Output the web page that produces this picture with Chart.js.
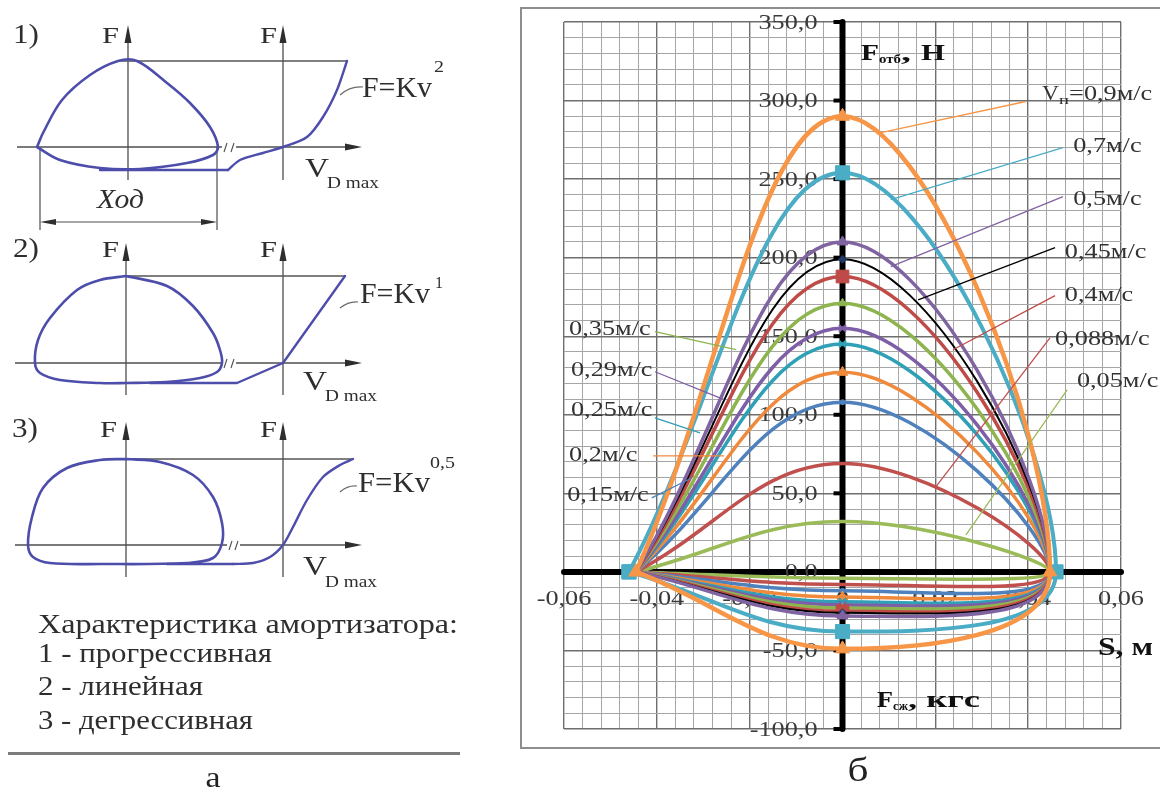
<!DOCTYPE html>
<html lang="ru">
<head>
<meta charset="utf-8">
<title>Характеристики амортизатора</title>
<script src="https://cdn.jsdelivr.net/npm/chart.js@4.4.1/dist/chart.umd.min.js"></script>
<style>
  html, body { margin: 0; padding: 0; background: #fff; }
  body { width: 1160px; height: 789px; position: relative; overflow: hidden; }
  canvas { position: absolute; }
  #frame { position: absolute; left: 520px; top: 7px; width: 700px; height: 742px;
           border: 2px solid #8e8e8e; box-sizing: border-box; }
</style>
</head>
<body>
<div id="frame"></div>
<canvas id="d1" width="470" height="240" style="left:0;top:0"></canvas>
<canvas id="d2" width="470" height="170" style="left:0;top:235px"></canvas>
<canvas id="d3" width="470" height="384" style="left:0;top:405px"></canvas>
<canvas id="main" width="640" height="789" style="left:520px;top:0"></canvas>
<script>
const SERIF = '"Liberation Serif", "Times New Roman", serif';
Chart.defaults.font.family = SERIF;

// ---------- б: working loops F(S) for a set of piston speeds ----------
const speedLabels = ['0,05', '0,088', '0,15', '0,2', '0,25', '0,29', '0,35', '0,4', '0,45', '0,5', '0,7', '0,9'];
// rebound force at mid-stroke (S = 0), Н
const reboundForce = [32, 69, 108, 127, 145, 155, 171, 188, 199, 210, 254, 290];
// compression force at mid-stroke (S = 0)
const compressionForce = [-4, -8, -12, -16, -19, -21, -23, -25, -26, -28, -38, -49];
// stroke ends, м
const strokeStart = [-0.0445, -0.0445, -0.0445, -0.0445, -0.0445, -0.0445, -0.0445, -0.0445, -0.0445, -0.0445, -0.046, -0.0445];
const strokeEnd = [0.0447, 0.0447, 0.0447, 0.0447, 0.0447, 0.0447, 0.0447, 0.0447, 0.0447, 0.0447, 0.046, 0.0447];

const xTickValues = [-0.06, -0.04, -0.02, 0, 0.02, 0.04, 0.06];
const xTickLabels = ['-0,06', '-0,04', '-0,02', '0', '0,02', '0,04', '0,06'];
const yTickValues = [350, 300, 250, 200, 150, 100, 50, 0, -50, -100];
const yTickLabels = ['350,0', '300,0', '250,0', '200,0', '150,0', '100,0', '50,0', '0,0', '-50,0', '-100,0'];

const X_MIN = -0.06, X_MAX = 0.06, X_GRID = 0.004;
const Y_MIN = -100, Y_MAX = 350, Y_GRID = 10;
const SX = 1.25;

// line and marker look of each loop, same order as speedLabels
const seriesStyle = [
  { color: '#9BBB59', width: 3.5 },
  { color: '#C0504D', width: 3.5 },
  { color: '#4F81BD', width: 3.5, marker: 'circle', r: 2.5 },
  { color: '#EF8A3C', width: 3.5, marker: 'triangle', r: 6 },
  { color: '#2FA0B6', width: 3.5, marker: 'crossRot', r: 5 },
  { color: '#7E5EA6', width: 3.5, marker: 'crossRot', r: 5 },
  { color: '#8DB44E', width: 3.5, marker: 'triangle', r: 5 },
  { color: '#BE4B48', width: 3.5, marker: 'rect', r: 9 },
  { color: '#000000', width: 2, marker: 'rectRot', r: 4, markerColor: '#1F3A68' },
  { color: '#8064A2', width: 3.5, marker: 'triangle', r: 6 },
  { color: '#4BACC6', width: 4, marker: 'rect', r: 10, ends: true },
  { color: '#F79646', width: 4.5, marker: 'triangle', r: 8, ends: true }
];

// callout text anchor and leader line for each loop (axis units)
const seriesNotes = [
  { at: [0.0505, 121],   from: [0.0484, 115.9], to: [0.0266, 23.6] },
  { at: [0.0458, 147.8], from: [0.0447, 149],   to: [0.0201, 54.1] },
  { at: [-0.0593, 48.4], from: [-0.0411, 47.1], to: [-0.0324, 59.9] },
  { at: [-0.0589, 74],   from: [-0.0408, 73.9], to: [-0.0255, 73.9] },
  { at: [-0.0585, 102.5],from: [-0.0404, 98.1], to: [-0.0307, 88.5] },
  { at: [-0.0585, 128],  from: [-0.0404, 127.4],to: [-0.0255, 109.6] },
  { at: [-0.0589, 154],  from: [-0.0404, 152.9],to: [-0.0229, 141.4] },
  { at: [0.0479, 175.8], from: [0.0458, 175.8], to: [0.0238, 141.4] },
  { at: [0.0479, 203],   from: [0.0458, 206.4], to: [0.0163, 173.2] },
  { at: [0.0497, 237],   from: [0.0475, 238.9], to: [0.0104, 194.3] },
  { at: [0.0497, 270.7], from: [0.0475, 270],   to: [0.0104, 237] },
  { at: [0.0430, 305.1], from: [0.0395, 299.4], to: [0.0083, 279.6] }
];

// ---------- а: schematic loops and velocity curves (local units, origin at the loop's F axis) ----------
const loopProgressive = [[-91,0],[-85,14],[-66,47],[-38,72],[-10,86],[9,86],[39,64],[62,44],[82,20],[90,0],[85,-8],[59,-16],[12,-22],[-28,-21],[-68,-13],[-91,0]];
const topProgressive = [[-10,86],[219,86]];
const baseProgressive = [[-28,-23],[100,-23]];
const curveProgressive = [[100,-23],[112,-13],[135,-6],[155,0],[179,10],[195,30],[209,57],[219,86]];

const loopLinear = [[0,87],[41,77],[67,57],[87,30],[94,13],[96,0],[91,-9],[74,-15],[40,-19],[0,-20],[-26,-20],[-66,-17],[-86,-10],[-91,0],[-88,23],[-76,45],[-49,73],[-26,83],[0,87]];
const topLinear = [[0,87],[219,87]];
const curveLinear = [[24,-20],[111,-20],[157,0],[219,87]];

const loopDegressive = [[0,86],[34,83],[67,70],[87,48],[96,22],[96,2],[87,-13],[61,-18],[-26,-19],[-76,-18],[-93,-12],[-98,0],[-94,28],[-83,57],[-59,77],[-26,85],[0,86]];
const topDegressive = [[0,86],[227,86]];
const baseDegressive = [[41,-19],[107,-19]];
const curveDegressive = [[107,-19],[127,-18],[144,-12],[157,0],[167,18],[181,45],[197,68],[214,80],[227,86]];

// ---------- text helpers ----------
function drawText(ctx, str, x, y, o) {
  ctx.save();
  ctx.font = o.font;
  ctx.fillStyle = o.color || '#222';
  ctx.textBaseline = o.baseline || 'alphabetic';
  ctx.textAlign = 'left';
  const natural = ctx.measureText(str).width;
  const sx = o.width ? o.width / natural : (o.sx || 1);
  let left = x;
  if (o.align === 'center') left = x - natural * sx / 2;
  else if (o.align === 'right') left = x - natural * sx;
  ctx.translate(left, y);
  ctx.scale(sx, 1);
  ctx.fillText(str, 0, 0);
  ctx.restore();
  return natural * sx;
}
function richText(ctx, parts, x, y, color) {
  let cx = x;
  parts.forEach(p => {
    cx += drawText(ctx, p.t, cx, y + (p.dy || 0), { font: p.font, width: p.w, sx: p.sx, color });
  });
}
function seg(ctx, x1, y1, x2, y2) {
  ctx.beginPath(); ctx.moveTo(x1, y1); ctx.lineTo(x2, y2); ctx.stroke();
}
function arrowHead(ctx, tx, ty, dx, dy, len, half) {
  const bx = tx - dx * len, by = ty - dy * len, nx = -dy, ny = dx;
  ctx.beginPath();
  ctx.moveTo(tx, ty);
  ctx.lineTo(bx + nx * half, by + ny * half);
  ctx.lineTo(bx - nx * half, by - ny * half);
  ctx.closePath();
  ctx.fill();
}
function gridTicks(min, max, step) {
  const n = Math.round((max - min) / step), t = [];
  for (let i = 0; i <= n; i++) t.push({ value: +(min + i * step).toFixed(6) });
  return t;
}

// ---------- б ----------
const loopDatasets = speedLabels.map((s, i) => {
  const st = seriesStyle[i];
  return {
    label: s + 'м/с',
    data: [
      { x: strokeStart[i], y: 0 },
      { x: 0, y: reboundForce[i] },
      { x: strokeEnd[i], y: 0 },
      { x: 0, y: compressionForce[i] },
      { x: strokeStart[i], y: 0 }
    ],
    showLine: true,
    borderColor: st.color,
    borderWidth: st.width,
    tension: 0.4,
    borderCapStyle: 'round',
    borderJoinStyle: 'round',
    pointStyle: st.marker || 'circle',
    pointRadius: c => (!st.marker || (c.dataIndex % 2 === 0 && !st.ends)) ? 0 : st.r,
    pointBackgroundColor: st.markerColor || st.color,
    pointBorderColor: st.markerColor || st.color,
    pointBorderWidth: st.marker === 'crossRot' ? 2 : 1,
    order: speedLabels.length - 1 - i
  };
});

const TICK_FONT = '21px ' + SERIF;
const crossAxes = {
  id: 'crossAxes',
  beforeDatasetsDraw(chart) {
    const { ctx, scales: { x, y } } = chart;
    const x0 = x.getPixelForValue(0), y0 = y.getPixelForValue(0);
    ctx.save();
    ctx.strokeStyle = '#000';
    ctx.lineCap = 'round';
    ctx.lineWidth = 6;
    seg(ctx, x0, y.getPixelForValue(Y_MAX), x0, y.getPixelForValue(Y_MIN));
    seg(ctx, x.getPixelForValue(X_MIN), y0, x.getPixelForValue(X_MAX), y0);
    ctx.lineCap = 'butt';
    ctx.lineWidth = 4;
    yTickValues.forEach(v => {
      if (v === 0) return;
      const p = y.getPixelForValue(v);
      seg(ctx, x0 - 9, p, x0, p);
    });
    yTickValues.forEach((v, i) => drawText(ctx, yTickLabels[i], x0 - 25, y.getPixelForValue(v) + 1,
      { font: TICK_FONT, sx: SX, align: 'right', baseline: 'middle', color: '#3a3a3a' }));
    xTickValues.forEach((v, i) => drawText(ctx, xTickLabels[i], x.getPixelForValue(v), y0 + 28,
      { font: TICK_FONT, sx: SX, align: 'center', baseline: 'middle', color: '#3a3a3a' }));

    const B = 'bold 24px ' + SERIF, b = 'bold 13px ' + SERIF;
    richText(ctx, [{ t: 'F', font: B, w: 18 }, { t: 'отб', font: b, w: 22, dy: 3 }, { t: ', ', font: B, w: 20 }, { t: 'Н', font: B, w: 24 }],
      x.getPixelForValue(0.004), y.getPixelForValue(326), '#111');
    richText(ctx, [{ t: 'S, м', font: 'bold 25px ' + SERIF, w: 55 }],
      x.getPixelForValue(0.05504), y.getPixelForValue(-52.9), '#111');
    richText(ctx, [{ t: 'F', font: B, w: 16 }, { t: 'сж', font: b, w: 15, dy: 3 }, { t: ', кгс', font: B, w: 72 }],
      x.getPixelForValue(0.00743), y.getPixelForValue(-86), '#111');
    ctx.restore();
  },
  afterDatasetsDraw(chart) {
    const { ctx, scales: { x, y } } = chart;
    ctx.save();
    ctx.lineWidth = 1.3;
    seriesNotes.forEach((n, i) => {
      ctx.strokeStyle = seriesStyle[i].color;
      seg(ctx, x.getPixelForValue(n.from[0]), y.getPixelForValue(n.from[1]),
               x.getPixelForValue(n.to[0]), y.getPixelForValue(n.to[1]));
      const lx = x.getPixelForValue(n.at[0]), ly = y.getPixelForValue(n.at[1]);
      if (i === speedLabels.length - 1) {
        const base = ly + 7;
        richText(ctx, [{ t: 'V', font: TICK_FONT, w: 17 }, { t: 'п', font: '13px ' + SERIF, w: 10, dy: 4 },
                       { t: '=' + speedLabels[i] + 'м/с', font: TICK_FONT, sx: SX }], lx, base, '#333');
      } else {
        drawText(ctx, speedLabels[i] + 'м/с', lx, ly, { font: TICK_FONT, sx: SX, baseline: 'middle', color: '#333' });
      }
    });
    drawText(ctx, 'б', 338, 781, { font: '34px ' + SERIF, width: 21, align: 'center', color: '#222' });
    ctx.restore();
  }
};

const MINOR = '#a6a6a6', MAJOR = '#6e6e6e';
new Chart(document.getElementById('main'), {
  type: 'scatter',
  data: { datasets: loopDatasets },
  options: {
    responsive: false,
    animation: false,
    devicePixelRatio: 1,
    layout: { padding: { left: 44, right: 39, top: 22, bottom: 60 } },
    plugins: { legend: { display: false }, tooltip: { enabled: false } },
    scales: {
      x: {
        type: 'linear', min: X_MIN, max: X_MAX,
        afterBuildTicks: a => { a.ticks = gridTicks(X_MIN, X_MAX, X_GRID); },
        ticks: { display: false, autoSkip: false },
        border: { display: false },
        grid: { drawTicks: false, color: c => c.index % 5 === 0 ? MAJOR : MINOR, lineWidth: c => c.index % 5 === 0 ? 1.4 : 1 }
      },
      y: {
        type: 'linear', min: Y_MIN, max: Y_MAX,
        afterBuildTicks: a => { a.ticks = gridTicks(Y_MIN, Y_MAX, Y_GRID); },
        ticks: { display: false, autoSkip: false },
        border: { display: false },
        grid: { drawTicks: false, color: c => c.index % 5 === 0 ? MAJOR : MINOR, lineWidth: c => c.index % 5 === 0 ? 1.4 : 1 }
      }
    }
  },
  plugins: [crossAxes]
});

// ---------- а ----------
const INK = '#2e2e2e';
function labelSet(num, numAt, fAt, f2At, formulaAt, formulaW, exp, expAt, expW, vAt, dAt) {
  return [
    { t: num, at: numAt, font: '28px ' + SERIF, w: 26 },
    { t: 'F', at: fAt, font: '23px ' + SERIF, w: 17 },
    { t: 'F', at: f2At, font: '23px ' + SERIF, w: 17 },
    { t: 'F=Kv', at: formulaAt, font: '30px ' + SERIF, w: formulaW },
    { t: exp, at: expAt, font: '17px ' + SERIF, w: expW },
    { t: 'V', at: vAt, font: '28px ' + SERIF, w: 24 },
    { t: 'D max', at: dAt, font: '17px ' + SERIF, w: 52 }
  ];
}

const diagramSpecs = [
  {
    id: 'd1', xMin: -128, xMax: 342, yMin: -93, yMax: 147,
    loop: loopProgressive, loopTension: 0.35, top: topProgressive, base: baseProgressive,
    curve: curveProgressive, curveTension: 0.3,
    axis2: 155, vLow: -33, vTop: 122, hLeft: -111, hRight: 234, gap: [94, 108],
    dimension: { left: -88, right: 89, bottom: -83, arrowY: -75 },
    labels: labelSet('1)', [-115, 104], [-26, 104], [132, 104], [234, 50], 70, '2', [306, 75], 10, [177, -30], [199, -41])
      .concat([{ t: 'Ход', at: [-31, -61], font: 'italic 28px ' + SERIF, w: 47 }]),
    leader: [[212, 52], [222, 61], [235, 60]]
  },
  {
    id: 'd2', xMin: -126, xMax: 344, yMin: -42, yMax: 128,
    loop: loopLinear, loopTension: 0.35, top: topLinear,
    curve: curveLinear, curveTension: 0,
    axis2: 157, vLow: -32, vTop: 120, hLeft: -111, hRight: 236, gap: [96, 110],
    labels: labelSet('2)', [-113, 106], [-24, 106], [134, 106], [234, 60], 70, '1', [309, 75], 8, [177, -27], [199, -38]),
    leader: [[214, 55], [223, 62], [232, 61]]
  },
  {
    id: 'd3', xMin: -126, xMax: 344, yMin: -244, yMax: 140,
    loop: loopDegressive, loopTension: 0.35, top: topDegressive, base: baseDegressive,
    curve: curveDegressive, curveTension: 0.3,
    axis2: 157, vLow: -32, vTop: 123, hLeft: -111, hRight: 236, gap: [101, 114],
    labels: labelSet('3)', [-114, 108], [-26, 108], [134, 108], [232, 53], 72, '0,5', [304, 77], 25, [177, -30], [199, -42]),
    leader: [[214, 53], [222, 60], [231, 59]],
    captions: [
      { t: 'Характеристика амортизатора:', x: 38, y: 228, w: 420 },
      { t: '1 - прогрессивная', x: 38, y: 257, w: 234 },
      { t: '2 - линейная', x: 38, y: 290, w: 165 },
      { t: '3 - дегрессивная', x: 38, y: 324, w: 215 }
    ]
  }
];

function schematicPlugin(spec) {
  return {
    id: 'schematic',
    beforeDatasetsDraw(chart) {
      const { ctx, scales: { x, y } } = chart;
      const px = v => x.getPixelForValue(v), py = v => y.getPixelForValue(v);
      ctx.save();
      ctx.strokeStyle = '#4e4e4e';
      ctx.fillStyle = '#2e2e2e';
      ctx.lineWidth = 1.3;
      [0, spec.axis2].forEach(ax => {
        seg(ctx, px(ax), py(spec.vLow), px(ax), py(spec.vTop) + 12);
        arrowHead(ctx, px(ax), py(spec.vTop), 0, -1, 18, 3.5);
      });
      const y0 = py(0);
      seg(ctx, px(spec.hLeft), y0, px(spec.gap[0]), y0);
      seg(ctx, px(spec.gap[1]), y0, px(spec.hRight) - 12, y0);
      arrowHead(ctx, px(spec.hRight), y0, 1, 0, 17, 3.5);
      // break in the axis
      ctx.lineWidth = 1.1;
      seg(ctx, px(spec.gap[0]) + 2, y0 + 5, px(spec.gap[0]) + 5, y0 - 4);
      seg(ctx, px(spec.gap[1]) - 5, y0 + 5, px(spec.gap[1]) - 2, y0 - 4);
      if (spec.dimension) {
        const d = spec.dimension;
        ctx.lineWidth = 1.2;
        seg(ctx, px(d.left), y0, px(d.left), py(d.bottom));
        seg(ctx, px(d.right), y0, px(d.right), py(d.bottom));
        const ay = py(d.arrowY);
        seg(ctx, px(d.left) + 8, ay, px(d.right) - 8, ay);
        arrowHead(ctx, px(d.left), ay, -1, 0, 16, 3);
        arrowHead(ctx, px(d.right), ay, 1, 0, 16, 3);
      }
      ctx.restore();
    },
    afterDatasetsDraw(chart) {
      const { ctx, scales: { x, y } } = chart;
      const px = v => x.getPixelForValue(v), py = v => y.getPixelForValue(v);
      ctx.save();
      spec.labels.forEach(l => drawText(ctx, l.t, px(l.at[0]), py(l.at[1]), { font: l.font, width: l.w, color: INK }));
      const [a, c, e] = spec.leader;
      ctx.strokeStyle = '#6a6a6a';
      ctx.lineWidth = 1.2;
      ctx.beginPath();
      ctx.moveTo(px(a[0]), py(a[1]));
      ctx.quadraticCurveTo(px(c[0]), py(c[1]), px(e[0]), py(e[1]));
      ctx.stroke();
      if (spec.captions) {
        spec.captions.forEach(cp => drawText(ctx, cp.t, cp.x, cp.y, { font: '28px ' + SERIF, width: cp.w, color: INK }));
        ctx.strokeStyle = '#7c7c7c';
        ctx.lineWidth = 3;
        seg(ctx, 8, 348.5, 460, 348.5);
        drawText(ctx, 'а', 213, 382, { font: '30px ' + SERIF, width: 15, align: 'center', color: '#222' });
      }
      ctx.restore();
    }
  };
}

function makeDiagram(spec) {
  const BLUE = '#4d4dab';
  const path = (pts, color, width, tension) => ({
    data: pts.map(([px, py]) => ({ x: px, y: py })),
    showLine: true, borderColor: color, borderWidth: width, tension,
    pointRadius: 0, borderCapStyle: 'round', borderJoinStyle: 'round'
  });
  const datasets = [path(spec.loop, BLUE, 2.6, spec.loopTension), path(spec.curve, BLUE, 2.4, spec.curveTension)];
  if (spec.base) datasets.push(path(spec.base, BLUE, 2.4, 0));
  datasets.push(path(spec.top, '#555555', 1.3, 0));
  new Chart(document.getElementById(spec.id), {
    type: 'scatter',
    data: { datasets },
    options: {
      responsive: false,
      animation: false,
      devicePixelRatio: 1,
      layout: { padding: 0 },
      plugins: { legend: { display: false }, tooltip: { enabled: false } },
      scales: {
        x: { type: 'linear', display: false, min: spec.xMin, max: spec.xMax },
        y: { type: 'linear', display: false, min: spec.yMin, max: spec.yMax }
      }
    },
    plugins: [schematicPlugin(spec)]
  });
}
diagramSpecs.forEach(makeDiagram);
</script>
</body>
</html>
